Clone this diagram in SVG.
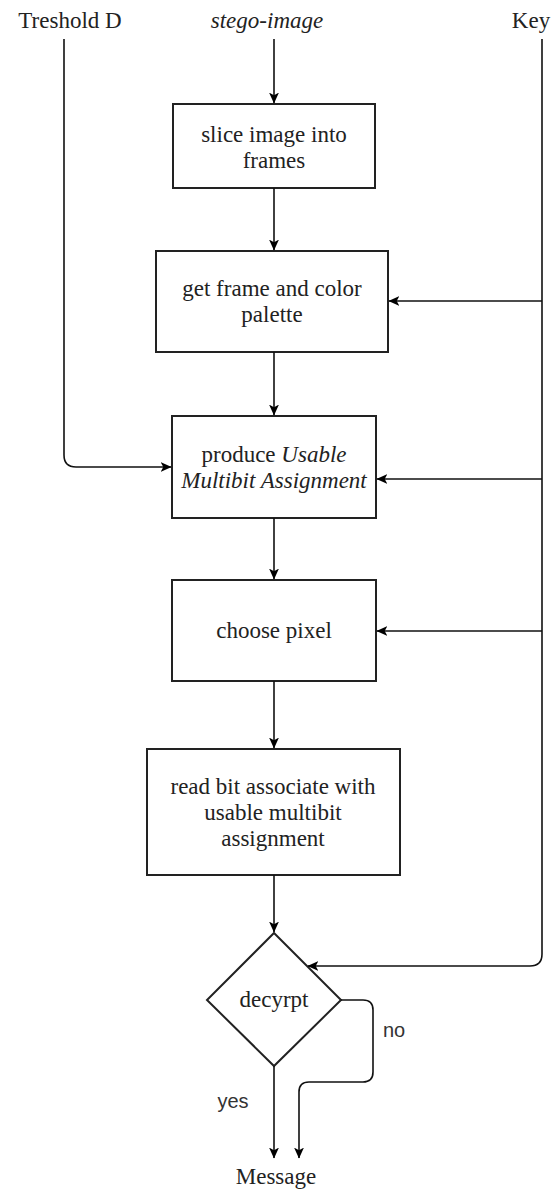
<svg xmlns="http://www.w3.org/2000/svg" width="560" height="1191" viewBox="0 0 560 1191">
<style>
.box{fill:#fff;stroke:#222;stroke-width:2}
.t{font-family:"Liberation Serif",serif;font-size:23px;fill:#222;text-anchor:middle}
.s{font-family:"Liberation Sans",sans-serif;font-size:20px;fill:#333;text-anchor:middle}
.c{fill:none;stroke:#111;stroke-width:1.6}
</style>
<defs>
<marker id="a" viewBox="0 0 10 10" refX="9.5" refY="5" markerWidth="11" markerHeight="11" markerUnits="userSpaceOnUse" orient="auto"><path d="M0,0.5 L10,5 L0,9.5 L2.5,5 Z" fill="#000"/></marker>
</defs>
<g id="labels">
<text class="t" x="70" y="28">Treshold D</text>
<text class="t" x="267" y="28" font-style="italic">stego-image</text>
<text class="t" x="531" y="28">Key</text>
<text class="t" x="276" y="1184">Message</text>
</g>
<g id="n1"><rect class="box" x="173" y="104" width="202" height="84"/><text class="t" x="274" y="142">slice image into</text><text class="t" x="274" y="168">frames</text></g>
<g id="n2"><rect class="box" x="156" y="251" width="232" height="101"/><text class="t" x="272" y="296">get frame and color</text><text class="t" x="272" y="322">palette</text></g>
<g id="n3"><rect class="box" x="172" y="416" width="204" height="102"/><text class="t" x="274" y="462">produce <tspan font-style="italic">Usable</tspan></text><text class="t" x="274" y="488" font-style="italic">Multibit Assignment</text></g>
<g id="n4"><rect class="box" x="172" y="580" width="204" height="101"/><text class="t" x="274" y="638">choose pixel</text></g>
<g id="n5"><rect class="box" x="147" y="749" width="253" height="126"/><text class="t" x="273" y="794">read bit associate with</text><text class="t" x="273" y="820">usable multibit</text><text class="t" x="273" y="846">assignment</text></g>
<g id="n6"><path class="box" d="M274,933 L341,1000 L274,1066 L207,1000 Z"/><text class="t" x="274" y="1007">decyrpt</text></g>
<g id="connectors">
<path class="c" marker-end="url(#a)" d="M274,39 L274,103"/>
<path class="c" marker-end="url(#a)" d="M274,188 L274,250"/>
<path class="c" marker-end="url(#a)" d="M274,352 L274,415"/>
<path class="c" marker-end="url(#a)" d="M274,518 L274,579"/>
<path class="c" marker-end="url(#a)" d="M274,681 L274,748"/>
<path class="c" marker-end="url(#a)" d="M274,875 L274,932"/>
<path class="c" marker-end="url(#a)" d="M64,39 L64,455 Q64,467 76,467 L171,467"/>
<path class="c" marker-end="url(#a)" d="M542,39 L542,954 Q542,966 530,966 L308,966"/>
<path class="c" marker-end="url(#a)" d="M542,301 L389,301"/>
<path class="c" marker-end="url(#a)" d="M542,479 L377,479"/>
<path class="c" marker-end="url(#a)" d="M542,631 L377,631"/>
<path class="c" marker-end="url(#a)" d="M274,1066 L274,1158"/>
<path class="c" marker-end="url(#a)" d="M341,1000 L363,1000 Q373,1000 373,1010 L373,1072 Q373,1082 363,1082 L309,1082 Q299,1082 299,1092 L299,1158"/>
<text class="s" x="394" y="1037">no</text>
<text class="s" x="233" y="1108">yes</text>
</g>
</svg>
